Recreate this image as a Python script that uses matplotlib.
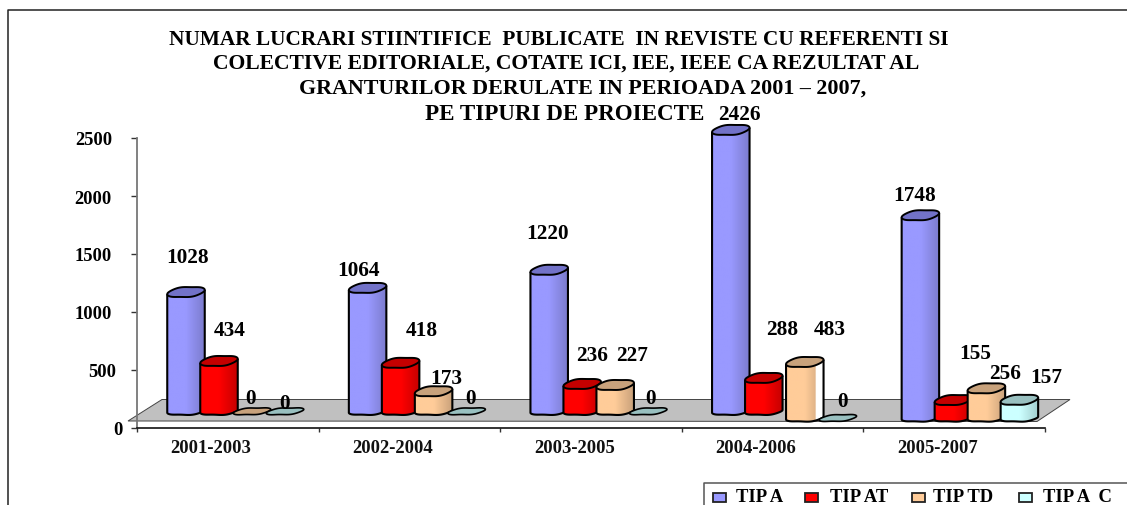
import numpy as np
import matplotlib
matplotlib.use("Agg")
import matplotlib.pyplot as plt
from matplotlib.patches import Polygon, Rectangle
from matplotlib.colors import LinearSegmentedColormap
from matplotlib.lines import Line2D

plt.rcParams['font.family'] = ['Liberation Serif', 'DejaVu Serif']
plt.rcParams['font.weight'] = 'bold'

W, H = 1127, 506
periods = ['2001-2003', '2002-2004', '2003-2005', '2004-2006', '2005-2007']
tip_a = [1028, 1064, 1220, 2426, 1748]
tip_at = [434, 418, 236, 288, 155]
tip_td = [0, 173, 227, 483, 256]
tip_ac = [0, 0, 0, 0, 157]
series_names = ['TIP A', 'TIP AT', 'TIP TD', 'TIP A  C']
series = [tip_a, tip_at, tip_td, tip_ac]
y_ticks = [0, 500, 1000, 1500, 2000, 2500]

face = ['#9999ff', '#ff0000', '#ffcc99', '#ccffff']
shade = ['#7b7bcc', '#c40000', '#c8a07a', '#a0cccc']
top_col = ['#7272c8', '#c40000', '#c8a27c', '#99c0c0']

# layout in pixels
AX_L, AX_R, AX_B, AX_T = 137, 1045, 429, 139
def fx(p): return p / W
def fy(p): return 1 - p / H

fig = plt.figure(figsize=(W / 100, H / 100), dpi=100, facecolor='white')
ax = fig.add_axes([fx(AX_L), fy(AX_B), fx(AX_R - AX_L), (AX_B - AX_T) / H])
ax.set_xlim(0, 5)
ax.set_ylim(0, 2500)
ax.patch.set_alpha(0)
PX = 5 / (AX_R - AX_L)
PY = 2500 / (AX_B - AX_T)
def X(p): return (p - AX_L) * PX
def Y(p): return (AX_B - p) * PY

# outer frame (cropped at the bottom and right of the picture)
fig.add_artist(Line2D([fx(7.5), fx(7.5), fx(W + 5)], [fy(H), fy(10.5), fy(10.5)],
                      color='#222222', lw=1.1))

# floor
floor = [(128, 422), (162, 400.5), (1070, 400.5), (1037, 422.5)]
ax.add_patch(Polygon([(X(a), Y(b)) for a, b in floor], closed=True, fc='#c0c0c0', ec='#444444',
                     lw=0.7, clip_on=False, zorder=1))

ax.spines['top'].set_visible(False)
ax.spines['right'].set_visible(False)
ax.spines['left'].set_color('#777777')
ax.spines['left'].set_linewidth(1.3)
ax.spines['bottom'].set_color('#111111')
ax.spines['bottom'].set_linewidth(1.2)
ax.set_xticks(range(6))
ax.set_xticklabels([])
ax.set_yticks(y_ticks)
ax.set_yticklabels([])
ax.tick_params(axis='y', length=4.5, width=1, color='#333333')
ax.tick_params(axis='x', length=3, width=1, color='#333333')

ylab_right = [123, 116, 112, 112, 112, 112]
for t, r in zip(y_ticks, ylab_right):
    fig.text(fx(r), fy(AX_B - t / PY + 2), str(t), ha='right', va='center',
             fontsize=13.3, fontweight='bold', color='black')
for i, p in enumerate(periods):
    fig.text(fx(AX_L + i * (AX_R - AX_L) / 5 + 74), fy(449), p, ha='center', va='center',
             fontsize=13.4, fontweight='bold', color='#111111')

# bar placement: centre pixel offset inside a category, front row shift
slot = [49, 82, 115, 148]
front = [[0, 0, 0, 0], [0, 0, 0, 0], [0, 0, 0, 0], [0, 0, 1, 1], [1, 1, 1, 1]]
BASE_BACK, BASE_FRONT = 412.3, 419
BW = 37.5

def blob(cx, cy, w, lift, tilt):
    """Slightly tilted, wavy cylinder cap in pixel space, returned in data units."""
    t = np.linspace(0, 2 * np.pi, 73)
    x = cx + w / 2 * np.cos(t)
    y = cy - lift * np.sin(t) - (x - cx) / w * tilt + 0.4 * np.sin(2 * np.pi * (x - cx) / w * 1.5)
    return np.column_stack([X(x), Y(y)])

for g in range(5):
    for s in range(4):
        v = series[s][g]
        cpx = AX_L + g * (AX_R - AX_L) / 5 + slot[s] + (8 if front[g][s] else 0)
        base_px = BASE_FRONT if front[g][s] else BASE_BACK
        bottom = Y(base_px)
        xc, bw = X(cpx), BW * PX
        z = 3 + s * 0.1 + g
        if v > 0:
            ax.bar(xc, v, width=bw, bottom=bottom, color='none', edgecolor='none',
                   zorder=z, clip_on=False)
            top_px = base_px - v / PY
            cap = blob(cpx, top_px, BW, 5, 3.5)
            low = blob(cpx, base_px, BW, 3.6, 2)[36:73]      # left to right lower arc
            body = np.vstack([cap[36], low, cap[0]])
            cmap = LinearSegmentedColormap.from_list('c', [face[s], face[s], shade[s]], N=256)
            grad = cmap(np.linspace(0, 1, 128))[None, :, :]
            if g == 3 and s == 2:   # white right-hand part of this bar
                grad[:, 100:, :3] = 1
            ext = (xc - bw / 2, xc + bw / 2, bottom - 8 * PY, bottom + v + 8 * PY)
            im = ax.imshow(grad, extent=ext, aspect='auto', zorder=z, interpolation='bilinear')
            clip = Polygon(body, closed=True, transform=ax.transData, fc='none', ec='none')
            ax.add_patch(clip)
            im.set_clip_path(clip)
            im.set_clip_box(fig.bbox)
            ax.add_patch(Polygon(body, closed=False, fc='none', ec='black',
                                 lw=1.5, zorder=z + 0.01, clip_on=False, joinstyle='round'))
            ax.add_patch(Polygon(cap, closed=True, fc=top_col[s], ec='black',
                                 lw=1.4, zorder=z + 0.02, clip_on=False))
        else:
            ax.add_patch(Polygon(blob(cpx, base_px, BW, 3.3, 3), closed=True, fc=top_col[s], ec='black',
                                 lw=1.2, zorder=z + 0.02, clip_on=False))
ax.set_xlim(0, 5)
ax.set_ylim(0, 2500)

# value labels (pixel centres)
label_px = [[(188, 258), (230, 331), (251, 399), (285, 404)],
            [(359, 271), (422, 331), (446, 379), (470, 399)],
            [(547, 234), (592, 356), (632, 356), (651, 399)],
            [(739, 115), (782, 330), (830, 330), (843, 402)],
            [(915, 196), (975, 354), (1005, 374), (1046, 378)]]
for g in range(5):
    for s in range(4):
        a, b = label_px[g][s]
        fig.text(fx(a), fy(b), str(series[s][g]), ha='center', va='center', fontsize=15.3,
                 fontweight='bold', color='black', zorder=50)

# title
title_lines = ['NUMAR LUCRARI STIINTIFICE  PUBLICATE  IN REVISTE CU REFERENTI SI',
               'COLECTIVE EDITORIALE, COTATE ICI, IEE, IEEE CA REZULTAT AL',
               'GRANTURILOR DERULATE IN PERIOADA 2001 – 2007,',
               'PE TIPURI DE PROIECTE']
title_pos = [(559, 40), (566, 64), (583, 89), (565, 115)]
title_size = [15.3, 15.6, 15.8, 16.6]
for line, (a, b), fs in zip(title_lines, title_pos, title_size):
    fig.text(fx(a), fy(b), line, ha='center', va='center', fontsize=fs, fontweight='bold', color='black')

# legend (cropped by the image edge as in the source)
fig.add_artist(Line2D([fx(703.5), fx(703.5), fx(W + 5)], [fy(H), fy(483.5), fy(483.5)],
                      color='#555555', lw=1.1))
leg_sw = [713, 805, 912, 1019]
leg_tx = [736, 830, 933, 1043]
for s in range(4):
    fig.add_artist(Rectangle((fx(leg_sw[s]), fy(503)), fx(13), 9.5 / H, fc=face[s], ec='#222222', lw=1.3))
    fig.text(fx(leg_tx[s]), fy(498), series_names[s], ha='left', va='center', fontsize=13.4,
             fontweight='bold', color='black')

fig.savefig('out.png', dpi=100)
